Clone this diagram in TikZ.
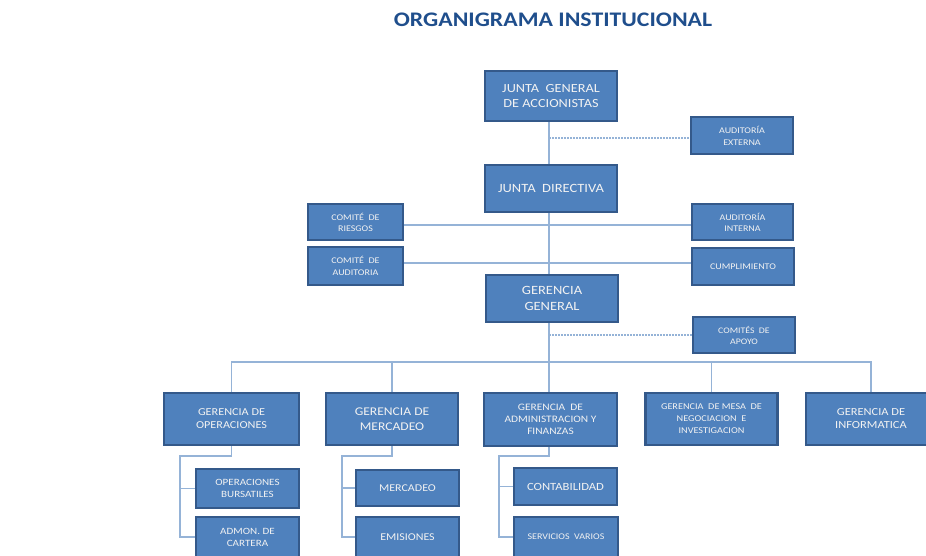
\documentclass[tikz,border=0pt]{standalone}
\usepackage{fontspec}
\setmainfont[FakeStretch=1.15]{Carlito}
\usetikzlibrary{backgrounds}
\definecolor{boxfill}{HTML}{4F81BD}
\definecolor{boxdraw}{HTML}{34598A}
\definecolor{conn}{HTML}{95B3D7}
\definecolor{titleblue}{HTML}{1F4E8C}
\definecolor{boxtext}{HTML}{F2F2F2}
\begin{document}
\begin{tikzpicture}[x=1pt,y=-1pt,
  box/.style={draw=boxdraw,fill=boxfill,line width=2.2pt,text=boxtext,align=center,inner sep=1pt,anchor=center},
  conline/.style={draw=conn,line width=1.6pt},
  dashline/.style={draw=conn,line width=1.4pt,dash pattern=on 2pt off 1pt}
]
\useasboundingbox (0,0) rectangle (926,555);
\clip (0,0) rectangle (926,555);
\node[font=\fontsize{20.7}{24}\selectfont\bfseries,text=titleblue] (title) at (553,20) {ORGANIGRAMA INSTITUCIONAL};

% top level
\node[box,minimum width=132,minimum height=50,font=\fontsize{12.4}{15}\selectfont] (jga) at (551,96) {JUNTA\ \ GENERAL\\DE ACCIONISTAS};
\node[box,minimum width=102,minimum height=37,font=\fontsize{8.7}{12}\selectfont] (ae) at (742,135.5) {AUDITORÍA\\EXTERNA};
\node[box,minimum width=132,minimum height=47,font=\fontsize{12.6}{15}\selectfont] (jd) at (551,188.5) {JUNTA\ \ DIRECTIVA};
\node[box,minimum width=95,minimum height=36,font=\fontsize{8.7}{11}\selectfont] (cr) at (355.5,222) {COMITÉ\ \ DE\\RIESGOS};
\node[box,minimum width=101,minimum height=36,font=\fontsize{8.7}{11}\selectfont] (ai) at (742.5,222) {AUDITORÍA\\INTERNA};
\node[box,minimum width=95,minimum height=38,font=\fontsize{8.7}{11.5}\selectfont] (ca) at (355.5,266) {COMITÉ\ \ DE\\AUDITORIA};
\node[box,minimum width=102,minimum height=37,font=\fontsize{8.7}{11}\selectfont] (cu) at (743,266.5) {CUMPLIMIENTO};
\node[box,minimum width=132,minimum height=47,font=\fontsize{12.6}{16}\selectfont] (gg) at (552,298.5) {GERENCIA\\GENERAL};
\node[box,minimum width=102,minimum height=36,font=\fontsize{8.5}{11}\selectfont] (capo) at (744,335) {COMITÉS\ \ DE\\APOYO};

% gerencias
\node[box,minimum width=135,minimum height=52,font=\fontsize{10.6}{13}\selectfont] (go) at (231.5,419) {GERENCIA DE\\OPERACIONES};
\node[box,minimum width=132,minimum height=52,font=\fontsize{11.8}{15}\selectfont] (gm) at (392,419) {GERENCIA DE\\MERCADEO};
\node[box,minimum width=133,minimum height=53,font=\fontsize{9.9}{12}\selectfont] (gaf) at (550.5,419.5) {GERENCIA\ \ DE\\ADMINISTRACION Y\\FINANZAS};
\node[box,minimum width=132,minimum height=52,font=\fontsize{8.9}{12}\selectfont] (gmn) at (711.5,419) {GERENCIA\ \ DE MESA\ \ DE\\NEGOCIACION\ \ E\\INVESTIGACION};
\node[box,minimum width=130,minimum height=52,font=\fontsize{10.8}{13}\selectfont] (gi) at (871,419) {GERENCIA DE\\INFORMATICA};

% sub units
\node[box,minimum width=103,minimum height=39,font=\fontsize{9.6}{12}\selectfont] (ob) at (247.5,488.5) {OPERACIONES\\BURSATILES};
\node[box,minimum width=103,minimum height=40,font=\fontsize{9.6}{12}\selectfont] (adm) at (247.5,537) {ADMON.\ DE\\CARTERA};
\node[box,minimum width=103,minimum height=36,font=\fontsize{10.4}{12}\selectfont] (me) at (407.5,488) {MERCADEO};
\node[box,minimum width=103,minimum height=40,font=\fontsize{10.4}{12}\selectfont] (em) at (407.5,537) {EMISIONES};
\node[box,minimum width=103,minimum height=37,font=\fontsize{11}{12}\selectfont] (co) at (565.5,486.5) {CONTABILIDAD};
\node[box,minimum width=104,minimum height=40,font=\fontsize{8.7}{12}\selectfont] (sv) at (566,537) {SERVICIOS\ \ VARIOS};

% connectors
\begin{scope}[on background layer]
\coordinate (bus) at (549,362);
\draw[conline] (jga.south -| bus) -- (jd.north -| bus);
\draw[conline] (jd.south -| bus) -- (gg.north -| bus);
\draw[conline] (gg.south -| bus) -- (bus);
\draw[dashline] (bus |- 0,138) -- (ae.west |- 0,138);
\draw[dashline] (bus |- capo.west) -- (capo.west);
\draw[conline] (cr.east |- 0,225) -- (ai.west |- 0,225);
\draw[conline] (ca.east |- 0,263) -- (cu.west |- 0,263);
\draw[conline] (go.north) -- (go.north |- bus) -- (gi.north |- bus) -- (gi.north);
\draw[conline] (gm.north) -- (gm.north |- bus);
\draw[conline] (gmn.north) -- (gmn.north |- bus);
\draw[conline] (bus) -- (bus |- gaf.north);

\coordinate (b1) at (180,456);
\draw[conline] (go.south) -- (go.south |- b1) -- (b1) |- (adm.west);
\draw[conline] (b1 |- ob.west) -- (ob.west);
\coordinate (b2) at (342,456);
\draw[conline] (gm.south) -- (gm.south |- b2) -- (b2) |- (em.west);
\draw[conline] (b2 |- me.west) -- (me.west);
\coordinate (b3) at (499,456);
\draw[conline] (gaf.south -| bus) -- (bus |- b3) -- (b3) |- (sv.west);
\draw[conline] (b3 |- co.west) -- (co.west);
\end{scope}
\end{tikzpicture}
\end{document}
